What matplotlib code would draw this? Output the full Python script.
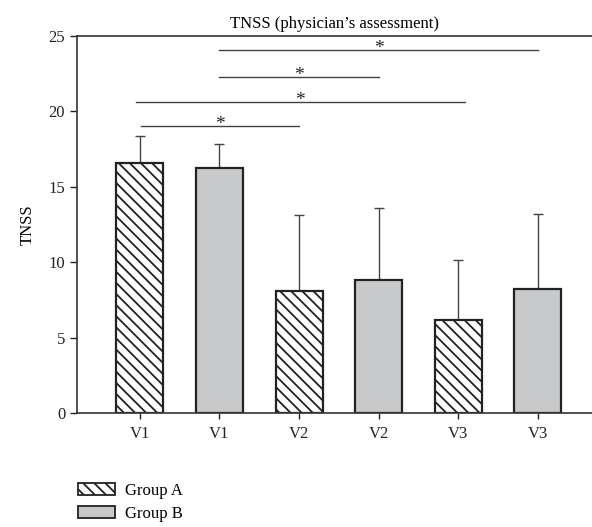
import matplotlib
matplotlib.use("Agg")
import matplotlib.pyplot as plt
from matplotlib.patches import Patch
import numpy as np

# data
tick_labels = ["V1", "V1", "V2", "V2", "V3", "V3"]
groups = ["A", "B", "A", "B", "A", "B"]
means = [16.6, 16.25, 8.1, 8.85, 6.15, 8.25]
err_upper = [1.75, 1.6, 5.05, 4.75, 4.0, 4.95]
# significance lines: (x start, x end, height), star at the middle
sig_lines = [(0.01, 2.0, 19.05), (-0.05, 4.08, 20.65),
             (1.0, 3.0, 22.3), (1.0, 5.0, 24.1)]

plt.rcParams["font.family"] = ["Liberation Serif", "DejaVu Serif"]
plt.rcParams["hatch.linewidth"] = 1.3
plt.rcParams["hatch.color"] = "#1a1a1a"

fig = plt.figure(figsize=(5.92, 5.27), dpi=100)
ax = fig.add_axes([0.130, 0.2163, 0.870, 0.7154])

x = np.arange(len(means))
edge = "#222222"
hatch = "\\\\\\"
for xi, m, g in zip(x, means, groups):
    if g == "A":
        ax.bar(xi, m, width=0.59, color="white", edgecolor=edge,
               linewidth=1.6, hatch=hatch, zorder=2)
    else:
        ax.bar(xi, m, width=0.59, color="#c8c9cb", edgecolor=edge,
               linewidth=1.6, zorder=2)
ax.errorbar(x, means, yerr=[np.zeros(len(means)), err_upper], fmt="none",
            ecolor="#444444", elinewidth=1.0, capsize=3.5, capthick=1.0,
            zorder=1)

for a, b, h in sig_lines:
    ax.plot([a, b], [h, h], color="#444444", lw=1.0, clip_on=False)
    ax.text((a + b) / 2, h + 0.05, "*", ha="center", va="center",
            fontsize=14, color="#222222")

ax.set_xlim(-0.79, 5.68)
ax.set_ylim(0, 25)
ax.set_yticks(range(0, 26, 5))
ax.set_xticks(x)
ax.set_xticklabels(tick_labels)
ax.tick_params(axis="both", labelsize=12, colors="#222222", width=1.0,
               direction="out")
ax.tick_params(axis="x", length=4, pad=5)
ax.tick_params(axis="y", length=5)
for side in ["left", "top", "bottom"]:
    ax.spines[side].set_color("#333333")
    ax.spines[side].set_linewidth(1.2)
ax.spines["right"].set_visible(False)
ax.set_ylabel("TNSS", fontsize=12, labelpad=9)
ax.set_title("TNSS (physician\u2019s assessment)", fontsize=12, pad=6)

handles = [Patch(facecolor="white", edgecolor=edge, hatch=hatch, lw=1.3),
           Patch(facecolor="#c8c9cb", edgecolor=edge, lw=1.3)]
fig.legend(handles, ["Group A", "Group B"], loc="upper left",
           bbox_to_anchor=(0.118, 0.100), frameon=False, fontsize=12,
           borderpad=0, handlelength=2.2, handleheight=0.75,
           handletextpad=0.6, labelspacing=0.45)

fig.savefig("out.png", dpi=100, facecolor="white")
